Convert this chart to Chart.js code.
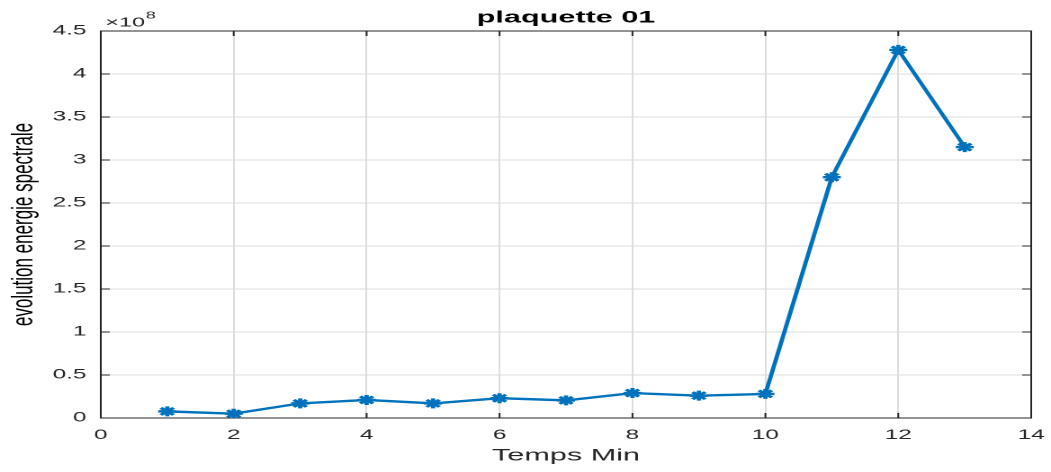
<!DOCTYPE html>
<html lang="fr">
<head>
<meta charset="utf-8">
<title>plaquette 01</title>
<script src="https://cdn.jsdelivr.net/npm/chart.js@4"></script>
<style>
  html, body { margin: 0; padding: 0; background: #ffffff; }
  #graphique { display: block; }
</style>
</head>
<body>
<!-- rendu sur 584 px de large puis étiré à 1051 px (style en ligne, sinon Chart.js le remplace) -->
<canvas id="graphique" width="584" height="472" style="width:1051px;height:472px"></canvas>
<script>
// ── DONNÉES ───────────────────────────────────────
const temps   = [1, 2, 3, 4, 5, 6, 7, 8, 9, 10, 11, 12, 13];
const energie = [7.7e6, 5.0e6, 1.7e7, 2.1e7, 1.7e7, 2.3e7, 2.05e7, 2.9e7, 2.6e7, 2.8e7, 2.80e8, 4.28e8, 3.15e8];

const ticksX = [0, 2, 4, 6, 8, 10, 12, 14];
const ticksY = [0, 0.5, 1, 1.5, 2, 2.5, 3, 3.5, 4, 4.5];
const EXPOSANT = 8;

// ── COULEURS / POLICES ────────────────────────────
const COULEURS = {
  trace: '#0072bd',
  axe:   '#262626',
  grille:'#dcdcdc'
};
const POLICE = "'Liberation Sans', Arial, Helvetica, sans-serif";
const LONG_TIRET = 5;

// ── BOÎTE + TIRETS INTÉRIEURS + ×10^8 ─────────────
const boiteAxes = {
  id: 'boiteAxes',
  beforeDatasetsDraw(chart) {
    const { ctx, chartArea: a, scales } = chart;
    ctx.save();
    ctx.strokeStyle = COULEURS.axe;
    ctx.lineWidth = 1;
    ctx.strokeRect(a.left, a.top, a.right - a.left, a.bottom - a.top);

    ctx.beginPath();
    scales.x.ticks.forEach(function(t) {
      const px = scales.x.getPixelForValue(t.value);
      ctx.moveTo(px, a.bottom); ctx.lineTo(px, a.bottom - LONG_TIRET);
      ctx.moveTo(px, a.top);    ctx.lineTo(px, a.top + LONG_TIRET);
    });
    scales.y.ticks.forEach(function(t) {
      const py = scales.y.getPixelForValue(t.value);
      ctx.moveTo(a.left, py);  ctx.lineTo(a.left + LONG_TIRET, py);
      ctx.moveTo(a.right, py); ctx.lineTo(a.right - LONG_TIRET, py);
    });
    ctx.stroke();

    // facteur d'échelle de l'axe y
    ctx.fillStyle = COULEURS.axe;
    ctx.textAlign = 'left';
    ctx.textBaseline = 'alphabetic';
    ctx.font = '13px ' + POLICE;
    const x0 = a.left + 2.5;
    ctx.fillText('×10', x0, a.top - 4.5);
    const largeur = ctx.measureText('×10').width;
    ctx.font = '10px ' + POLICE;
    ctx.fillText(String(EXPOSANT), x0 + largeur + 0.5, a.top - 12.5);
    ctx.restore();
  }
};

// ── GRAPHIQUE ─────────────────────────────────────
const points = temps.map(function(t, i) { return { x: t, y: energie[i] }; });

new Chart(document.getElementById('graphique'), {
  type: 'line',
  data: {
    datasets: [{
      data: points,
      borderColor: COULEURS.trace,
      backgroundColor: COULEURS.trace,
      borderWidth: 2.4,
      tension: 0,
      fill: false,
      pointStyle: 'star',
      pointRadius: 5,
      pointBorderWidth: 2.4,
      pointBorderColor: COULEURS.trace
    }]
  },
  options: {
    responsive: false,
    devicePixelRatio: 2,
    animation: false,
    layout: { padding: { left: 0, right: 11, top: 0, bottom: 0 } },
    plugins: {
      legend: { display: false },
      tooltip: { enabled: false },
      title: {
        display: true,
        fullSize: false, // centré sur la zone du tracé
        text: 'plaquette 01',
        color: '#000000',
        font: { family: POLICE, size: 17, weight: 'bold', lineHeight: 18 / 17 },
        padding: { top: 9, bottom: 4 }
      }
    },
    scales: {
      x: {
        type: 'linear',
        min: 0,
        max: 14,
        afterFit: function(s) { s.height = 54; s.paddingLeft = 0; s.paddingRight = 0; },
        afterBuildTicks: function(s) { s.ticks = ticksX.map(function(v) { return { value: v }; }); },
        grid: { color: COULEURS.grille, lineWidth: 1, drawTicks: false },
        border: { display: false },
        ticks: {
          color: COULEURS.axe,
          padding: 9,
          maxRotation: 0,
          font: { family: POLICE, size: 13.5 }
        },
        title: {
          display: true,
          text: 'Temps Min',
          color: COULEURS.axe,
          font: { family: POLICE, size: 17 },
          padding: { top: 4, bottom: 6 }
        }
      },
      y: {
        type: 'linear',
        min: 0,
        max: ticksY[ticksY.length - 1] * Math.pow(10, EXPOSANT),
        afterFit: function(s) { s.width = 56; s.paddingTop = 0; s.paddingBottom = 0; },
        afterBuildTicks: function(s) {
          s.ticks = ticksY.map(function(v) { return { value: v * Math.pow(10, EXPOSANT) }; });
        },
        grid: { color: COULEURS.grille, lineWidth: 1, drawTicks: false },
        border: { display: false },
        ticks: {
          color: COULEURS.axe,
          padding: 8,
          font: { family: POLICE, size: 13.5 },
          callback: function(v) { return String(parseFloat((v / Math.pow(10, EXPOSANT)).toFixed(1))); }
        },
        title: {
          display: true,
          text: 'evolution energie spectrale',
          color: '#000000',
          font: { family: POLICE, size: 17 },
          padding: { top: 3, bottom: 0 }
        }
      }
    }
  },
  plugins: [boiteAxes]
});
</script>
</body>
</html>
